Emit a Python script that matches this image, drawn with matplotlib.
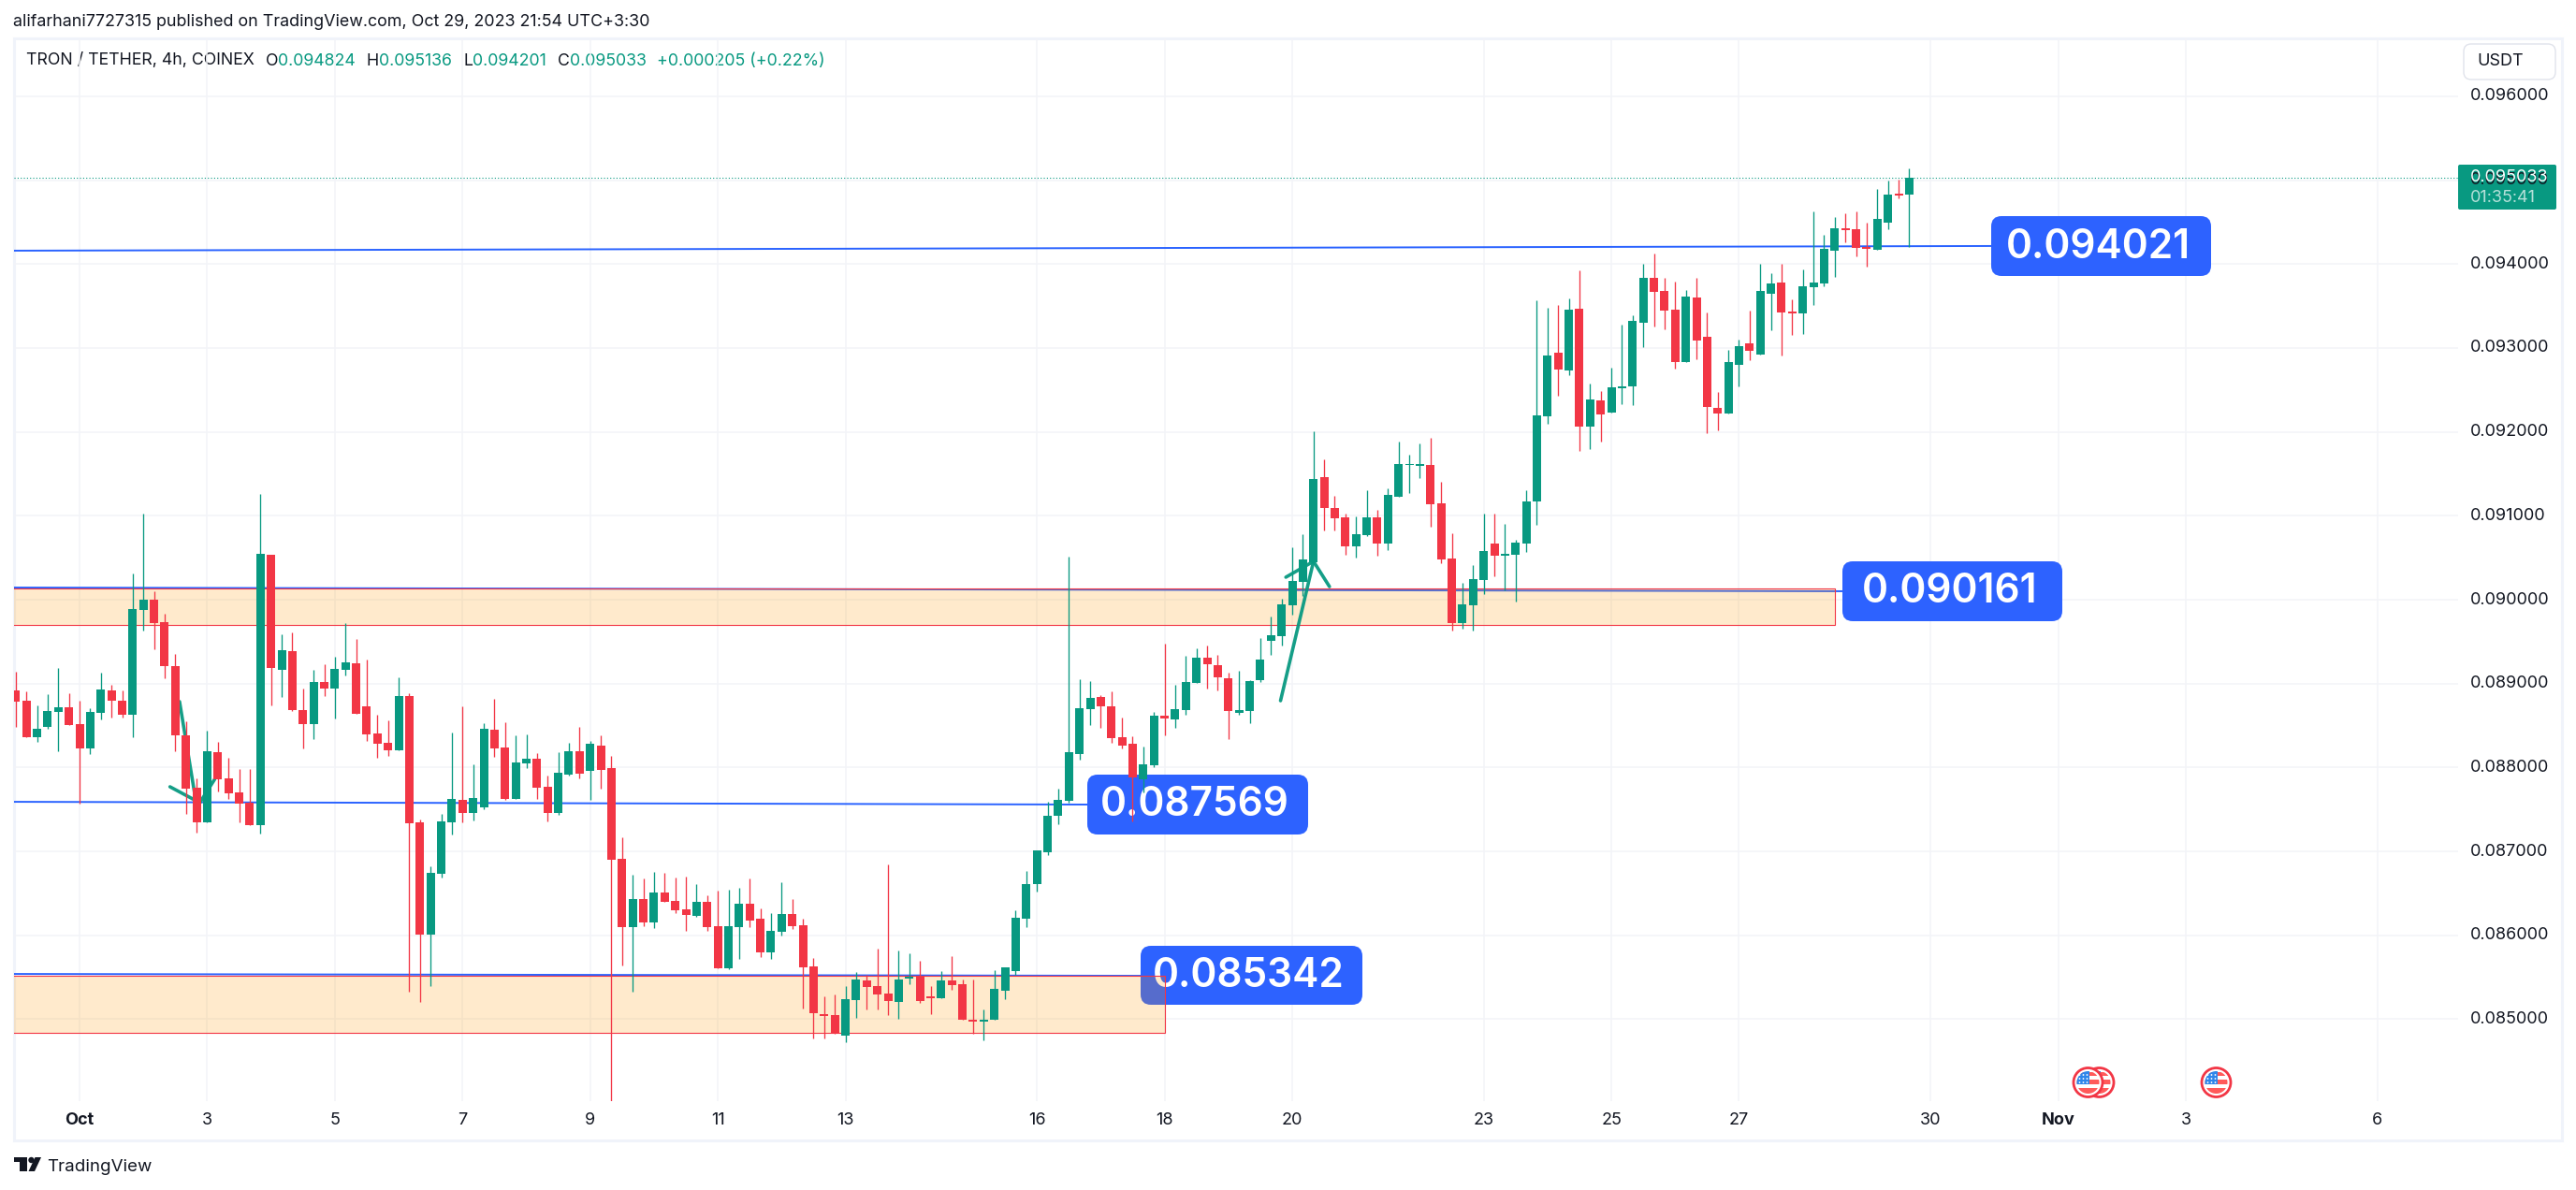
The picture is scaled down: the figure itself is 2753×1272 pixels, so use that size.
import matplotlib

matplotlib.use("Agg")
import matplotlib.pyplot as plt
from matplotlib.patches import Circle, FancyBboxPatch, Polygon, Rectangle

plt.rcParams["font.family"] = ["Inter", "DejaVu Sans"]

# candles, prices in millionths of USDT, first bar is 6 bars before Oct 1
first_bar = -6
opens = [
    88919, 88796, 88365, 88488, 88663, 88718, 88518, 88231, 88655, 88919,
    88796, 88633, 89882, 90001, 89733, 89209, 88384, 87759, 87350, 88183,
    87871, 87704, 87585, 87317, 90536, 89168, 89387, 88685, 88521, 89019,
    88945, 89168, 89242, 88729, 88406, 88295, 88209, 88852, 87346, 86010,
    86735, 87346, 87615, 87461, 87525, 88451, 88238, 87627, 88050, 88105,
    87768, 87457, 87918, 88191, 87960, 88259, 87990, 86910, 86099, 86432,
    86155, 86509, 86407, 86309, 86232, 86398, 86108, 85609, 86099, 86377,
    86198, 85801, 86044, 86253, 86116, 85626, 85058, 85049, 84800, 85224,
    85456, 85392, 85302, 85203, 85482, 85507, 85267, 85250, 85456, 85413,
    84993, 84967, 84988, 85336, 85572, 86202, 86605, 86987, 87425, 87600,
    88162, 88698, 88840, 88729, 88360, 88282, 87854, 88029, 88617, 88578,
    88686, 89012, 89312, 89222, 89067, 88656, 88668, 89045, 89514, 89569,
    89937, 90216, 90447, 91461, 91093, 90982, 90640, 90774, 90982, 90673,
    91231, 91606, 91599, 91606, 91149, 90491, 89726, 89937, 90239, 90670,
    90528, 90540, 90673, 91175, 92190, 92944, 92736, 93468, 92067, 92376,
    92234, 92524, 92547, 93305, 93836, 93680, 93457, 92837, 93602, 93134,
    92286, 92223, 92803, 93056, 92926, 93651, 93781, 93435, 93416, 93729,
    93773, 94160, 94428, 94417, 94205, 94175, 94498, 94840, 94824,
]
closes = [
    88789, 88365, 88462, 88674, 88718, 88506, 88231, 88663, 88930, 88800,
    88633, 89889, 90001, 89726, 89213, 88388, 87752, 87350, 88194, 87863,
    87696, 87573, 87317, 90547, 89190, 89399, 88689, 88521, 89019, 88945,
    89176, 89254, 88644, 88399, 88287, 88209, 88852, 87339, 86010, 86744,
    87354, 87623, 87461, 87636, 88460, 88229, 87627, 88058, 88105, 87764,
    87461, 87935, 88191, 87930, 88280, 87973, 86902, 86099, 86432, 86155,
    86509, 86402, 86296, 86244, 86398, 86099, 85609, 86108, 86377, 86176,
    85801, 86053, 86253, 86112, 85621, 85075, 85041, 84828, 85233, 85469,
    85383, 85293, 85216, 85469, 85507, 85216, 85250, 85456, 85405, 84988,
    84967, 84993, 85357, 85615, 86206, 86610, 87013, 87429, 87609, 88180,
    88707, 88831, 88724, 88351, 88265, 87884, 88034, 88617, 88587, 88694,
    89020, 89312, 89226, 89072, 88677, 88686, 89033, 89287, 89577, 89945,
    90224, 90480, 91439, 91097, 90974, 90640, 90781, 90982, 90673, 91250,
    91618, 91618, 91614, 91142, 90484, 89726, 89945, 90246, 90580, 90528,
    90547, 90681, 91171, 92197, 92911, 92747, 93457, 92067, 92387, 92212,
    92532, 92543, 93323, 93836, 93673, 93450, 92837, 93613, 93093, 92301,
    92223, 92833, 93022, 92970, 93680, 93770, 93428, 93416, 93736, 93781,
    94183, 94428, 94409, 94197, 94186, 94539, 94829, 94822, 95033,
]
highs = [
    89142, 88908, 88741, 88874, 89187, 88886, 88796, 88707, 89131, 88986,
    88919, 90313, 91027, 90101, 89833, 89354, 88551, 87871, 88440, 88306,
    88116, 87982, 87982, 91261, 90536, 89588, 89610, 88941, 89164, 89231,
    89320, 89722, 89532, 89287, 88629, 88562, 89075, 88886, 87384, 86821,
    87444, 88417, 88728, 88037, 88528, 88818, 88541, 88383, 88396, 88169,
    87905, 88182, 88293, 88481, 88314, 88383, 88135, 87166, 86723, 86680,
    86752, 86744, 86688, 86697, 86607, 86475, 86530, 86543, 86565, 86676,
    86317, 86262, 86633, 86432, 86198, 85728, 85271, 85293, 85392, 85559,
    85533, 85838, 86846, 85816, 85782, 85692, 85392, 85568, 85748, 85477,
    85469, 85121, 85580, 85615, 86297, 86768, 87013, 87596, 87742, 90513,
    89054, 89033, 88866, 88909, 88596, 88373, 88248, 88664, 89471, 88986,
    89333, 89415, 89458, 89346, 89132, 89157, 89046, 89543, 89800, 90012,
    90625, 90781, 92008, 91673, 91238, 91027, 90993, 91305, 91071, 91328,
    91885, 91729, 91863, 91930, 91406, 90792, 90201, 90413, 91027, 91027,
    90904, 90714, 91305, 93569, 93480, 93513, 93591, 93926, 92576, 92487,
    92766, 93279, 93390, 94004, 94126, 93836, 93792, 93691, 93836, 93424,
    92476, 92978, 93100, 93446, 94004, 93892, 94004, 93580, 93937, 94629,
    94350, 94562, 94606, 94629, 94495, 94896, 94997, 95008, 95136,
]
lows = [
    88488, 88365, 88309, 88466, 88198, 88506, 87573, 88165, 88577, 88599,
    88599, 88365, 89636, 89413, 89068, 88198, 87451, 87228, 87350, 87718,
    87629, 87350, 87317, 87217, 88744, 88845, 88677, 88231, 88343, 88856,
    88588, 89101, 88644, 88321, 88120, 88142, 88209, 85328, 85207, 85399,
    86693, 87201, 87346, 87371, 87504, 88131, 87615, 87627, 87990, 87623,
    87358, 87435, 87909, 87871, 87619, 87751, 84020, 85643, 85331, 86112,
    86091, 86402, 86266, 86057, 86223, 86057, 85609, 85600, 85720, 86099,
    85745, 85720, 86001, 86078, 85131, 84772, 84772, 84828, 84723, 85010,
    85113, 85113, 85044, 85001, 85417, 85190, 85057, 85250, 85349, 84988,
    84821, 84744, 84988, 85237, 85533, 86099, 86524, 86961, 87322, 87579,
    88094, 88510, 88467, 88295, 88231, 87352, 87699, 88004, 88381, 88475,
    88634, 89012, 88943, 88913, 88338, 88634, 88523, 89023, 89343, 89458,
    89822, 90049, 90447, 90826, 90826, 90540, 90506, 90763, 90528, 90595,
    91231, 91276, 91454, 90874, 90439, 89636, 89659, 89636, 90071, 90283,
    90116, 89982, 90573, 90896, 92101, 92435, 92680, 91777, 91800, 91889,
    92234, 92335, 92324, 93015, 93260, 93227, 92758, 92837, 92870, 91989,
    92022, 92223, 92547, 92859, 92926, 93216, 92915, 93160, 93171, 93517,
    93740, 93851, 94261, 94093, 93971, 94175, 94420, 94788, 94201,
]

last_close = 95033

price_ticks = [85, 86, 87, 88, 89, 90, 91, 92, 93, 94, 95, 96]
time_ticks = [0, 12, 24, 36, 48, 60, 72, 90, 102, 114, 132, 144, 156, 174, 186, 198, 216]
time_labels = ["Oct", "3", "5", "7", "9", "11", "13", "16", "18", "20", "23", "25", "27", "30", "Nov", "3", "6"]

# drawn levels: start bar, start price, end bar, end price, label text, label box in pixels
level_lines = [
    (-7, 94160, 179.7, 94216),
    (-7, 87591, 94.8, 87558),
    (-7, 85539, 99.8, 85517),
    (-7, 90145, 165.8, 90101),
]
level_labels = ["0.094021", "0.087569", "0.085342", "0.090161"]
level_boxes = [(2128, 231, 2363, 295), (1162, 828, 1398, 892), (1219, 1011, 1456, 1074), (1969, 600, 2204, 664)]

# orange zones: end bar, top, bottom
zones = [(165, 90134, 89699), (102, 85517, 84840)]

# hand drawn arrows
arrow_strokes = [
    ([9.4, 10.8, 11.3], [88785, 87703, 87580]),
    ([8.5, 11.3, 12.7], [87770, 87580, 87859]),
    ([112.9, 116.0], [88796, 90457]),
    ([113.4, 116.0, 117.5], [90268, 90457, 90156]),
]

GREEN = "#089981"
RED = "#F23645"
BLUE = "#2962FF"
TEXT = "#131722"
GRID = "#F3F4F8"
W, H = 2753, 1272

fig = plt.figure(figsize=(W / 100, H / 100), dpi=100, facecolor="white")

# pixel layer for everything around the chart
ov = fig.add_axes([0, 0, 1, 1], zorder=0)
ov.set_xlim(0, W)
ov.set_ylim(H, 0)
ov.axis("off")

# main chart area, px 15..2627 and 41..1177
ax = fig.add_axes([15 / W, 1 - 1177 / H, (2627 - 15) / W, (1177 - 41) / H], zorder=1)
ax.patch.set_alpha(0)
ax.set_xlim(-6.16, 223.6)
ax.set_ylim(84023, 96691)
for s in ax.spines.values():
    s.set_visible(False)
ax.set_xticks(time_ticks)
ax.set_yticks([p * 1000 for p in price_ticks])
ax.tick_params(length=0, labelleft=False, labelbottom=False)
ax.grid(True, color=GRID, lw=1.1, zorder=0)
ax.set_axisbelow(True)

# frame
ov.add_patch(Rectangle((15, 41), 2723, 1178, fill=False, ec="#F0F3FA", lw=2.2))

# zones
for end, top, bottom in zones:
    ax.add_patch(Rectangle((-8, bottom), end + 8, top - bottom, fc=(1, 0.596, 0, 0.2), ec="none", zorder=2.4))
    ax.add_patch(Rectangle((-8, bottom), end + 8, top - bottom, fill=False, ec=RED, lw=0.8, zorder=2.4))

# levels and their labels
for (x0, y0, x1, y1) in level_lines:
    ax.plot([x0, x1], [y0, y1], color=BLUE, lw=1.4, zorder=2)

for text, (x0, y0, x1, y1) in zip(level_labels, level_boxes):
    box = FancyBboxPatch((x0 + 11, y0 + 11), x1 - x0 - 22, y1 - y0 - 22, boxstyle="round,pad=11,rounding_size=11",
                         fc="#2D62FF", ec="none", transform=ov.transData, zorder=2.2, clip_on=False)
    ax.add_patch(box)
    ax.text((x0 + x1) / 2 - 3, (y0 + y1) / 2 + 1, text, color="white", fontsize=30.5, fontweight="semibold",
            ha="center", va="center", transform=ov.transData, zorder=2.3, clip_on=False)

for xs, ys in arrow_strokes:
    ax.plot(xs, ys, color=GREEN, lw=2.6, solid_capstyle="round", solid_joinstyle="round", alpha=0.95, zorder=2.6)

# last price line
ax.axhline(last_close, color=GREEN, lw=0.8, ls=(0, (1, 2)), zorder=2.5)

# candles
for i in range(len(opens)):
    x = first_bar + i
    color = GREEN if closes[i] >= opens[i] else RED
    ax.vlines(x, lows[i], highs[i], color=color, lw=0.95, zorder=3)
    ax.bar(x, abs(closes[i] - opens[i]), bottom=min(opens[i], closes[i]), width=0.79, color=color, lw=0, zorder=3)

# header and legend
ov.text(14, 23, "alifarhani7727315 published on TradingView.com, Oct 29, 2023 21:54 UTC+3:30",
        color=TEXT, fontsize=12.9, va="center", ha="left")
legend_parts = [
    (27.6, "TRON / TETHER, 4h, COINEX", TEXT),
    (284, "O", TEXT), (297, "0.094824", GREEN),
    (391.5, "H", TEXT), (405, "0.095136", GREEN),
    (495.4, "L", TEXT), (505, "0.094201", GREEN),
    (596, "C", TEXT), (608.5, "0.095033", GREEN),
    (701.5, "+0.000205 (+0.22%)", GREEN),
]
for x, text, color in legend_parts:
    ov.text(x, 65, text, color=color, fontsize=12.8, va="center", ha="left")

# price scale
for p in price_ticks:
    y = ax.transData.transform((0, p * 1000))[1]
    ov.text(2640, H - y, f"0.{p * 1000:06d}", color=TEXT, fontsize=13, va="center", ha="left")

ov.add_patch(FancyBboxPatch((2641, 55), 82, 22, boxstyle="round,pad=8,rounding_size=8", fc="white", ec="#E0E3EB", lw=1))
ov.text(2647, 66, "USDT", color=TEXT, fontsize=13, va="center", ha="left")

ov.add_patch(FancyBboxPatch((2627, 176), 105, 48, boxstyle="round,pad=0,rounding_size=2", fc=GREEN, ec="none"))
ov.text(2640, 190, "0.095033", color="white", fontsize=13, va="center", ha="left")
ov.text(2640, 211, "01:35:41", color="#B5E0D9", fontsize=13, va="center", ha="left")

# time scale
for t, label in zip(time_ticks, time_labels):
    x = ax.transData.transform((t, 90000))[0]
    bold = label in ("Oct", "Nov")
    ov.text(x, 1198, label, color=TEXT, fontsize=13, va="center", ha="center", fontweight="bold" if bold else "normal")


def flag(cx, cy):
    ov.add_patch(Circle((cx, cy), 15.5, fc="white", ec=RED, lw=2))
    clip = Circle((cx, cy), 12, transform=ov.transData)
    parts = [
        Rectangle((cx - 13, cy - 11), 26, 4, fc="#FF5A5A", ec="none"),
        Rectangle((cx - 13, cy - 3), 26, 5, fc="#FF5A5A", ec="none"),
        Rectangle((cx - 13, cy + 6), 26, 7, fc="#FF5A5A", ec="none"),
        Rectangle((cx - 13, cy - 13), 14, 15, fc="#2E86EA", ec="none"),
    ]
    for part in parts:
        ov.add_patch(part)
        part.set_clip_path(clip)
    for dx in (-9, -5, -1):
        for dy in (-8, -4, 0):
            ov.add_patch(Circle((cx + dx, cy + dy), 0.9, fc="white", ec="none"))


flag(2243.5, 1157)
flag(2231.5, 1157)
flag(2368.5, 1157)

# footer logo
ov.add_patch(Polygon([(15, 1237), (28.5, 1237), (28.5, 1252), (21, 1252), (21, 1241.5), (15, 1241.5)], fc=TEXT, ec="none"))
ov.add_patch(Circle((33.5, 1240), 3.2, fc=TEXT, ec="none"))
ov.add_patch(Polygon([(37.5, 1237), (44, 1237), (37, 1252), (30.5, 1252)], fc=TEXT, ec="none"))
ov.text(50, 1247, "TradingView", color=TEXT, fontsize=13.5, va="center", ha="left")

fig.savefig("out.png", dpi=100)
